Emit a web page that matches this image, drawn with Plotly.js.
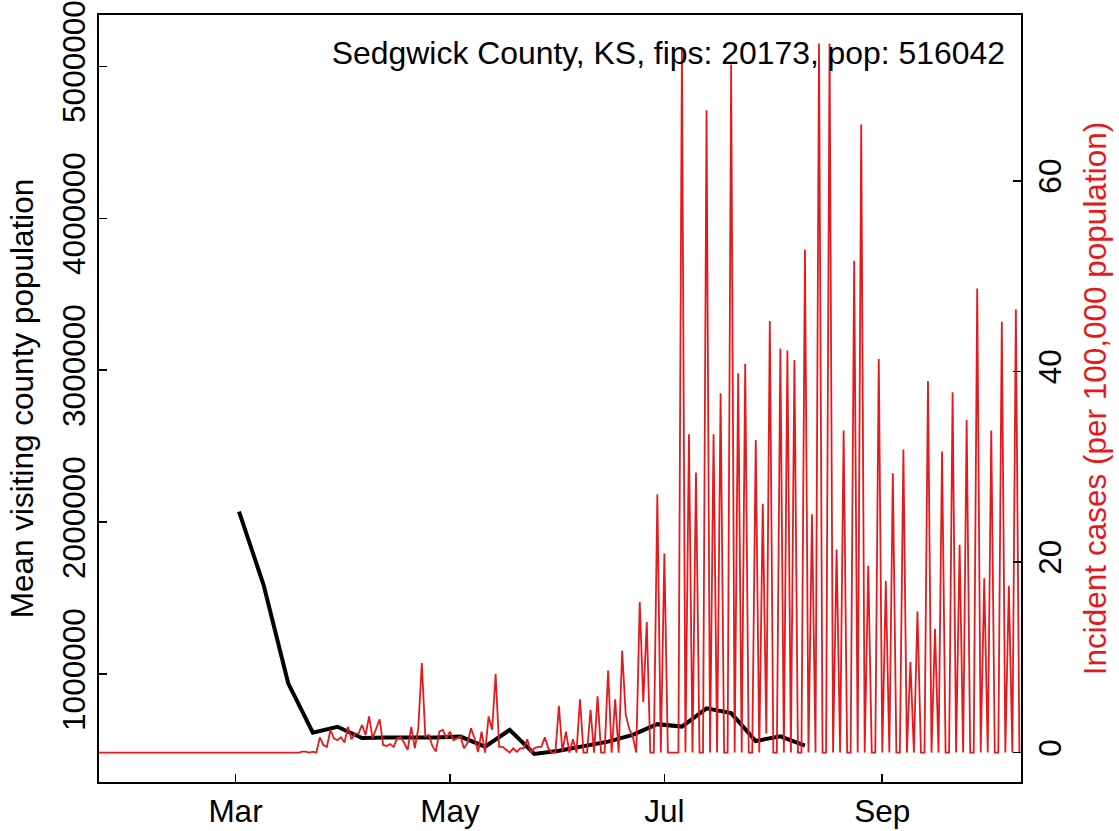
<!DOCTYPE html>
<html>
<head>
<meta charset="utf-8">
<script src="https://cdn.plot.ly/plotly-3.0.1.min.js"></script>
<style>
html,body{margin:0;padding:0;background:#ffffff;}
#chart{width:1119px;height:831px;}
</style>
</head>
<body>
<div id="chart"></div>
<script>
// ---- text ----
const chartTitle = "Sedgwick County, KS, fips: 20173, pop: 516042";
const leftAxisTitle = "Mean visiting county population";
const rightAxisTitle = "Incident cases (per 100,000 population)";

// ---- tick labels ----
const monthTickDates = ["2020-03-01", "2020-05-01", "2020-07-01", "2020-09-01"];
const monthTickLabels = ["Mar", "May", "Jul", "Sep"];
const popTickValues = [1000000, 2000000, 3000000, 4000000, 5000000];
const popTickLabels = ["1000000", "2000000", "3000000", "4000000", "5000000"];
const caseTickValues = [0, 20, 40, 60];
const caseTickLabels = ["0", "20", "40", "60"];

// ---- black series: weekly mean visiting county population ----
const visitWeeks = [
  "2020-03-02","2020-03-09","2020-03-16","2020-03-23","2020-03-30","2020-04-06",
  "2020-04-13","2020-04-20","2020-04-27","2020-05-04","2020-05-11","2020-05-18",
  "2020-05-25","2020-06-01","2020-06-08","2020-06-15","2020-06-22","2020-06-29",
  "2020-07-06","2020-07-13","2020-07-20","2020-07-27","2020-08-03","2020-08-10"
];
const visitPop = [
  2070000, 1587000, 941000, 616000, 655000, 581000,
  584000, 583000, 584000, 590000, 524000, 634000,
  476000, 497000, 524000, 557000, 601000, 672000,
  656000, 776000, 745000, 561000, 592000, 531000
];

// ---- red series: daily incident cases per 100,000, starting 2020-01-22 ----
const caseStartDate = "2020-01-22";
const incidentCases = [
  0,0,0,0,0,0,0,0,0,0,
  0,0,0,0,0,0,0,0,0,0,
  0,0,0,0,0,0,0,0,0,0,
  0,0,0,0,0,0,0,0,0,0,
  0,0,0,0,0,0,0,0,0,0,
  0,0,0,0,0,0,0,0,0.1,0.1,
  0,0.1,0,1.6,0.8,0.6,2.4,1.5,1.3,1.6,
  1.05,2.7,1.4,2.0,2.0,2.9,1.85,3.8,1.5,2.5,
  3.5,0.8,0.7,0.9,0.6,1.5,1.6,1.0,0.3,2.7,
  0.45,2.55,9.4,1.7,1.85,0.7,0.1,2.2,2.4,1.5,
  2.2,1.3,1.5,1.7,0.45,1.0,2.55,1.5,0.05,2.2,
  0,3.8,2.4,8.25,0.6,0.6,0.3,0,0.45,0.1,
  0.45,0.45,1.4,0,0.45,0.6,0.6,1.6,0.45,0,
  0,4.9,0.1,2.2,0,1.4,0,5.6,0,0,
  4.5,0,5.9,0,0,8.6,0,5.6,0,10.7,
  4.0,2.5,1.7,0,15.8,5.3,13.7,0,0,27.1,
  0,20.9,0,0,0,0,74,0,33.4,0,
  29.4,0,0,67.4,0,33.4,0,37.7,0,0,
  72.2,0,39.8,0,40.8,0,0,32.8,0,26.1,
  2.0,45.3,0,0,42.4,0,42.2,0,41.2,0,
  0,52.8,0,25.0,0,74.4,0,0,74.4,0,
  21.3,0,33.8,0,0,51.6,0,65.9,0,19.6,
  0,0,41.3,0,18.0,0,29.3,0,0,31.8,
  0,9.5,0,14.8,0,0,39.0,0,13.0,0,
  31.6,0,0,37.8,0,21.8,0,34.9,0,0,
  48.7,0,18.3,0,33.8,0,0,45.2,0,17.5,
  0,46.5,0
];

// daily date labels for the case series
const startParts = caseStartDate.split("-").map(Number);
const caseDates = incidentCases.map(function (_, i) {
  const d = new Date(Date.UTC(startParts[0], startParts[1] - 1, startParts[2] + i));
  return d.toISOString().slice(0, 10);
});

const RED = "#E41A1C";
const FONT = '"Liberation Sans", Arial, Helvetica, sans-serif';
const FS = 31.5;

const traces = [
  {
    type: "scatter", mode: "lines",
    x: visitWeeks, y: visitPop,
    line: {color: "#000000", width: 4},
    xaxis: "x", yaxis: "y",
    hoverinfo: "skip"
  },
  {
    type: "scatter", mode: "lines",
    x: caseDates, y: incidentCases,
    line: {color: RED, width: 1.8},
    xaxis: "x", yaxis: "y2",
    hoverinfo: "skip"
  }
];

const layout = {
  width: 1119, height: 831,
  margin: {l: 99, r: 98, t: 15, b: 49, pad: 0},
  paper_bgcolor: "#ffffff", plot_bgcolor: "#ffffff",
  showlegend: false,
  font: {family: FONT, size: FS, color: "#000000"},
  title: {
    text: chartTitle,
    xref: "paper", yref: "paper",
    x: 0.9826, y: 0.9505,
    xanchor: "right", yanchor: "middle",
    font: {family: FONT, size: 31.9, color: "#000000"}
  },
  xaxis: {
    type: "date",
    range: ["2020-01-22 04:00", "2020-10-10 11:00"],
    tickmode: "array", tickvals: monthTickDates, ticktext: monthTickLabels,
    ticks: "inside", ticklen: 8, tickwidth: 1.6, tickcolor: "#000000",
    showline: true, linecolor: "#000000", linewidth: 1.8, mirror: true,
    showgrid: false, zeroline: false, automargin: false,
    tickfont: {family: FONT, size: FS, color: "#000000"}
  },
  yaxis: {
    range: [291447, 5337500],
    tickmode: "array", tickvals: popTickValues, ticktext: popTickLabels,
    tickangle: -90,
    ticks: "inside", ticklen: 8, tickwidth: 1.6, tickcolor: "#000000",
    showline: true, linecolor: "#000000", linewidth: 1.8, mirror: true,
    showgrid: false, zeroline: false, automargin: false,
    tickfont: {family: FONT, size: FS, color: "#000000"},
    title: {text: leftAxisTitle, font: {family: FONT, size: FS, color: "#000000"}, standoff: 12}
  },
  yaxis2: {
    overlaying: "y", side: "right", anchor: "x",
    range: [-3.085, 77.40],
    tickmode: "array", tickvals: caseTickValues, ticktext: caseTickLabels,
    tickangle: -90,
    ticks: "inside", ticklen: 8, tickwidth: 1.6, tickcolor: "#000000",
    showline: true, linecolor: "#000000", linewidth: 1.8,
    showgrid: false, zeroline: false, automargin: false,
    tickfont: {family: FONT, size: FS, color: "#000000"},
    title: {text: rightAxisTitle, font: {family: FONT, size: FS, color: RED}, standoff: 17}
  }
};

Plotly.newPlot("chart", traces, layout, {staticPlot: true, displayModeBar: false});
</script>
</body>
</html>
